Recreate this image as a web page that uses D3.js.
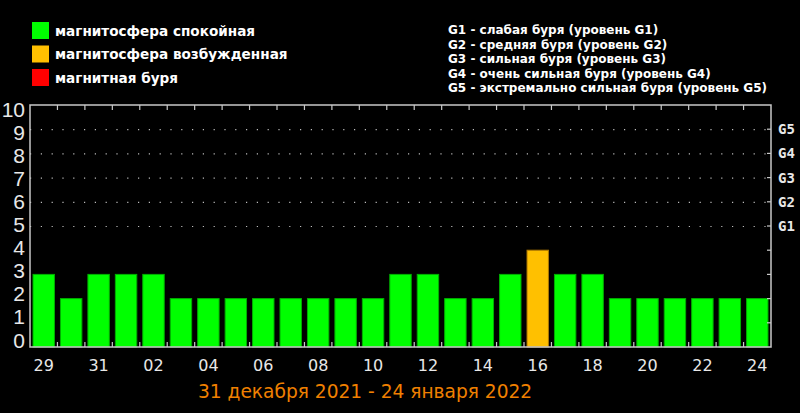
<!DOCTYPE html>
<html>
<head>
<meta charset="utf-8">
<script src="https://cdn.jsdelivr.net/npm/d3@7"></script>
<style>
  html, body { margin: 0; padding: 0; background: #000; }
  svg { display: block; }
</style>
</head>
<body>
<div id="chart"></div>
<script>
// daily Kp maximum, 29 Dec 2021 .. 24 Jan 2022
const days = ["29", "30", "31", "01", "02", "03", "04", "05", "06", "07", "08", "09", "10",
  "11", "12", "13", "14", "15", "16", "17", "18", "19", "20", "21", "22", "23", "24"];
const kp = [3, 2, 3, 3, 3, 2, 2, 2, 2, 2, 2, 2, 2, 3, 3, 2, 2, 3, 4, 3, 3, 2, 2, 2, 2, 2, 2];

const yTicks = [0, 1, 2, 3, 4, 5, 6, 7, 8, 9, 10];
const gLevels = [5, 6, 7, 8, 9];
const gLabels = ["G1", "G2", "G3", "G4", "G5"];

const legendLeft = ["магнитосфера спокойная", "магнитосфера возбужденная", "магнитная буря"];
const legendRight = [
  "G1 - слабая буря (уровень G1)",
  "G2 - средняя буря (уровень G2)",
  "G3 - сильная буря (уровень G3)",
  "G4 - очень сильная буря (уровень G4)",
  "G5 - экстремально сильная буря (уровень G5)"
];
const period = "31 декабря 2021 - 24 января 2022";

/*************************
***** SET DIMENSIONS *****
*************************/
const width = 800, height = 413;
const margin = {top: 105, left: 30, right: 29, bottom: 66};
const plotWidth = width - margin.left - margin.right;
const plotHeight = height - margin.top - margin.bottom;

const fillFor = v => v >= 5 ? "#ff0000" : (v >= 4 ? "#ffc000" : "#00ff00");
const edgeFor = v => v >= 5 ? "#b00000" : (v >= 4 ? "#b07800" : "#00b000");

const svg = d3.select("#chart").append("svg")
  .attr("width", width).attr("height", height)
  .style("background", "#000");

const x = d3.scaleBand().domain(days).range([0, plotWidth]).paddingInner(0.22).paddingOuter(0.11);
const xb = d3.scaleLinear().domain([0, days.length]).range([0, plotWidth]);
const y = d3.scaleLinear().domain([0, 10]).range([plotHeight, 0]);
// tick labels sit a little tighter than the grid in the original
const yLab = d3.scaleLinear().domain([0, 10]).range([plotHeight - 7, 4]);

const plot = svg.append("g").attr("transform", `translate(${margin.left},${margin.top})`);

// dotted storm-level gridlines
plot.selectAll(".grid").data(gLevels).enter().append("line")
  .attr("x1", 0).attr("x2", plotWidth)
  .attr("y1", d => y(d) + 0.5).attr("y2", d => y(d) + 0.5)
  .attr("stroke", "#bbbbbb").attr("stroke-width", 1.2)
  .attr("stroke-dasharray", "1.2,9.6");

// bars
plot.selectAll(".bar").data(kp).enter().append("rect")
  .attr("x", (d, i) => x(days[i]))
  .attr("width", x.bandwidth())
  .attr("y", d => y(d))
  .attr("height", d => plotHeight - y(d))
  .attr("fill", d => fillFor(d))
  .attr("stroke", d => edgeFor(d)).attr("stroke-width", 1);

// ticks at day boundaries (top and bottom)
const bounds = d3.range(1, days.length);
plot.selectAll(".tickTop").data(bounds).enter().append("line")
  .attr("x1", d => xb(d)).attr("x2", d => xb(d))
  .attr("y1", 0).attr("y2", 5)
  .attr("stroke", "#c8c8c8").attr("stroke-width", 1.2);
plot.selectAll(".tickBot").data(bounds).enter().append("line")
  .attr("x1", d => xb(d)).attr("x2", d => xb(d))
  .attr("y1", plotHeight).attr("y2", plotHeight - 5)
  .attr("stroke", "#c8c8c8").attr("stroke-width", 1.2);

// right side ticks
plot.selectAll(".tickR").data(d3.range(1, 10)).enter().append("line")
  .attr("x1", plotWidth - 4).attr("x2", plotWidth)
  .attr("y1", d => y(d)).attr("y2", d => y(d))
  .attr("stroke", "#c8c8c8").attr("stroke-width", 1.2);

// frame
plot.append("rect")
  .attr("x", 0).attr("y", 0).attr("width", plotWidth).attr("height", plotHeight)
  .attr("fill", "none").attr("stroke", "#c8c8c8").attr("stroke-width", 1.5);

// y labels
plot.selectAll(".yLabel").data(yTicks).enter().append("text")
  .attr("x", -5).attr("y", d => yLab(d))
  .attr("dy", "0.36em")
  .attr("text-anchor", "end")
  .attr("fill", "#e8e8e8")
  .style("font-family", "'Liberation Sans'")
  .style("font-size", "21px")
  .text(d => d);

// G labels on the right
plot.selectAll(".gLabel").data(gLevels).enter().append("text")
  .attr("x", plotWidth + 7).attr("y", d => y(d))
  .attr("dy", "0.36em")
  .attr("fill", "#e8e8e8")
  .style("font-family", "'DejaVu Sans Mono'")
  .style("font-size", "14px")
  .style("font-weight", "bold")
  .text((d, i) => gLabels[i]);

// x labels, every other day
plot.selectAll(".xLabel").data(days.filter((d, i) => i % 2 === 0)).enter().append("text")
  .attr("x", d => x(d) + x.bandwidth() / 2)
  .attr("y", plotHeight + 18)
  .attr("dy", "0.36em")
  .attr("text-anchor", "middle")
  .attr("fill", "#e8e8e8")
  .style("font-family", "'DejaVu Sans'")
  .style("font-size", "16px")
  .text(d => d);

// period caption
svg.append("text")
  .attr("x", 198).attr("y", 398)
  .attr("fill", "#f08000")
  .style("font-family", "'DejaVu Sans'")
  .style("font-size", "18.6px")
  .text(period);

/****************
***** LEGEND ****
****************/
const legL = svg.append("g").attr("id", "legendLeft");
legL.selectAll("rect").data(legendLeft).enter().append("rect")
  .attr("x", 32).attr("y", (d, i) => 22 + i * 23.5)
  .attr("width", 17).attr("height", 17)
  .attr("fill", (d, i) => ["#00ff00", "#ffc000", "#ff0000"][i]);
legL.selectAll("text").data(legendLeft).enter().append("text")
  .attr("x", 55).attr("y", (d, i) => 31 + i * 23.5)
  .attr("dy", "0.36em")
  .attr("fill", "#ffffff")
  .style("font-family", "'DejaVu Sans'")
  .style("font-size", "13.6px")
  .style("font-weight", "bold")
  .text(d => d);

const legR = svg.append("g").attr("id", "legendRight");
legR.selectAll("text").data(legendRight).enter().append("text")
  .attr("x", 448).attr("y", (d, i) => 30 + i * 14.5)
  .attr("dy", "0.36em")
  .attr("fill", "#ffffff")
  .style("font-family", "'DejaVu Sans'")
  .style("font-size", "12px")
  .style("font-weight", "bold")
  .text(d => d);
</script>
</body>
</html>
